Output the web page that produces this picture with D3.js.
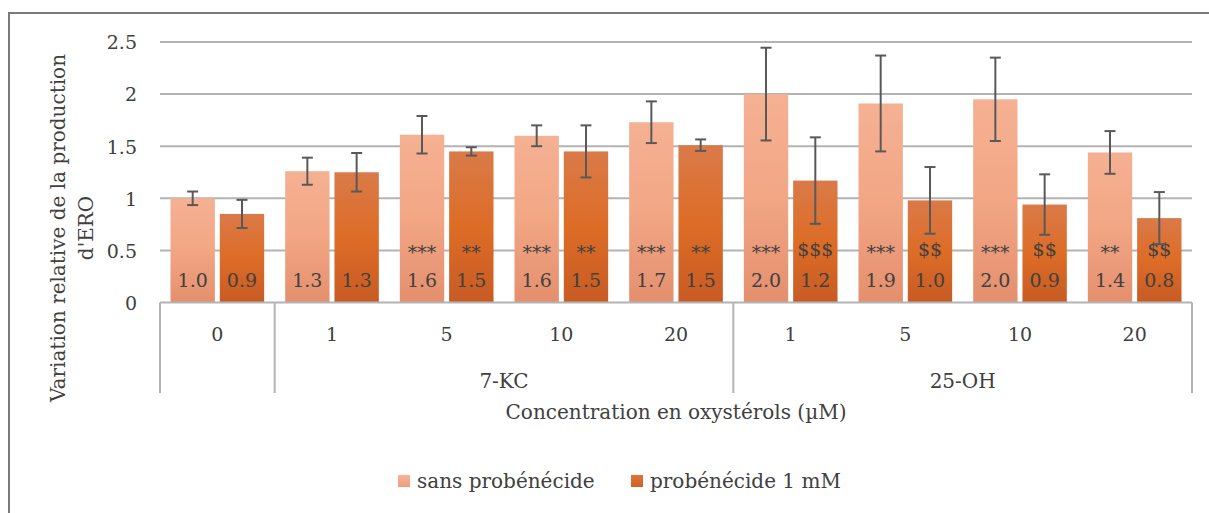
<!DOCTYPE html>
<html>
<head>
<meta charset="utf-8">
<script src="https://cdn.jsdelivr.net/npm/d3@7"></script>
<style>
  html, body { margin: 0; padding: 0; background: #fff; }
  svg { display: block; font-family: "DejaVu Serif", "Liberation Serif", serif; }
</style>
</head>
<body>
<svg id="chart" width="1209" height="513"></svg>
<script>
// ---- data ----
const concentrations = ["0", "1", "5", "10", "20", "1", "5", "10", "20"];
const groups = [
  { name: "", start: 0, end: 0 },
  { name: "7-KC", start: 1, end: 4 },
  { name: "25-OH", start: 5, end: 8 }
];
const seriesNames = ["sans probénécide", "probénécide 1 mM"];
const sansValues = [1.0, 1.26, 1.61, 1.60, 1.73, 2.0, 1.91, 1.95, 1.44];
const probValues = [0.85, 1.25, 1.45, 1.45, 1.51, 1.17, 0.98, 0.94, 0.81];
const sansErrors = [0.065, 0.13, 0.18, 0.10, 0.20, 0.445, 0.46, 0.40, 0.205];
const probErrors = [0.135, 0.185, 0.04, 0.25, 0.055, 0.415, 0.32, 0.29, 0.25];
const sansLabels = ["1.0", "1.3", "1.6", "1.6", "1.7", "2.0", "1.9", "2.0", "1.4"];
const probLabels = ["0.9", "1.3", "1.5", "1.5", "1.5", "1.2", "1.0", "0.9", "0.8"];
const sansSig = ["", "", "***", "***", "***", "***", "***", "***", "**"];
const probSig = ["", "", "**", "**", "**", "$$$", "$$", "$$", "$$"];
const yTicks = [0, 0.5, 1, 1.5, 2, 2.5];
const yTickLabels = ["0", "0.5", "1", "1.5", "2", "2.5"];
const yTitle = ["Variation relative de la production", "d'ERO"];
const xTitle = "Concentration en oxystérols (µM)";

const series = [
  { name: seriesNames[0], values: sansValues, errors: sansErrors, labels: sansLabels, sig: sansSig, grad: "gSans", legendGrad: "gSansL" },
  { name: seriesNames[1], values: probValues, errors: probErrors, labels: probLabels, sig: probSig, grad: "gProb", legendGrad: "gProbL" }
];

// ---- layout ----
const svg = d3.select("#chart");
const plotL = 160, plotR = 1192, plotT = 42, plotB = 302.5;
const textColor = "#404040";
const fontSize = 19;
const titleSize = 20;

const defs = svg.append("defs");
function grad(id, stops) {
  const g = defs.append("linearGradient").attr("id", id)
    .attr("x1", 0).attr("y1", 0).attr("x2", 0).attr("y2", 1);
  stops.forEach(s => g.append("stop").attr("offset", s[0]).attr("stop-color", s[1]));
}
grad("gSans", [[0, "#f5b193"], [0.5, "#f2a684"], [1, "#e48f6e"]]);
grad("gProb", [[0, "#da7a49"], [0.5, "#dd6c26"], [1, "#c75b24"]]);
grad("gSansL", [[0, "#f7b498"], [1, "#ee9d7c"]]);
grad("gProbL", [[0, "#e0743c"], [1, "#cf6125"]]);

// frame
svg.append("path")
  .attr("d", `M9,513 L9,13 L1209,13`)
  .attr("fill", "none").attr("stroke", "#7a7a7a").attr("stroke-width", 2);

const x0 = d3.scaleBand().domain(d3.range(concentrations.length)).range([plotL, plotR]).padding(0);
const bw = x0.bandwidth();
const x1 = d3.scaleBand().domain([0, 1]).range([10.5, bw - 10.5]).paddingInner(0.1);
const y = d3.scaleLinear().domain([0, 2.5]).range([plotB, plotT]);

// gridlines
svg.append("g").selectAll("line").data(yTicks.filter(t => t > 0)).join("line")
  .attr("x1", plotL).attr("x2", plotR)
  .attr("y1", d => y(d)).attr("y2", d => y(d))
  .attr("stroke", "#b3b3b3").attr("stroke-width", 2);

// y axis labels
const yAxis = d3.axisLeft(y).tickValues(yTicks).tickFormat((d, i) => yTickLabels[i]).tickSize(0).tickPadding(0);
const yg = svg.append("g").attr("transform", `translate(${plotL - 23},0)`).call(yAxis);
yg.select(".domain").remove();
yg.selectAll("text").attr("font-size", fontSize).attr("fill", textColor)
  .attr("font-family", "DejaVu Serif").attr("dy", "0.36em");

// bars
const barG = svg.append("g");
series.forEach((s, si) => {
  const g = barG.append("g");
  g.selectAll("rect").data(s.values).join("rect")
    .attr("x", (d, i) => x0(i) + x1(si))
    .attr("width", x1.bandwidth())
    .attr("y", d => y(d))
    .attr("height", d => y(0) - y(d))
    .attr("fill", `url(#${s.grad})`);
});

// baseline axis (x) and separators
svg.append("line").attr("x1", plotL).attr("x2", plotR).attr("y1", plotB).attr("y2", plotB)
  .attr("stroke", "#b3b3b3").attr("stroke-width", 2);
const sepX = [plotL, x0(1), x0(5), plotR];
svg.append("g").selectAll("line").data(sepX).join("line")
  .attr("x1", d => d).attr("x2", d => d).attr("y1", plotB).attr("y2", 393)
  .attr("stroke", "#b3b3b3").attr("stroke-width", 2);

// value and significance labels
series.forEach((s, si) => {
  const g = svg.append("g").attr("font-size", fontSize).attr("fill", textColor).attr("text-anchor", "middle");
  g.selectAll("text.v").data(s.labels).join("text").attr("class", "v")
    .attr("x", (d, i) => x0(i) + x1(si) + x1.bandwidth() / 2)
    .attr("y", 287)
    .text(d => d);
  g.selectAll("text.s").data(s.sig).join("text").attr("class", "s")
    .attr("x", (d, i) => x0(i) + x1(si) + x1.bandwidth() / 2)
    .attr("y", d => d.startsWith("*") ? 259 : 256)
    .text(d => d);
});

// error bars
series.forEach((s, si) => {
  const g = svg.append("g").attr("stroke", "#595959").attr("stroke-width", 2).attr("fill", "none");
  s.values.forEach((v, i) => {
    const cx = x0(i) + x1(si) + x1.bandwidth() / 2;
    const top = y(v + s.errors[i]), bot = y(v - s.errors[i]);
    g.append("line").attr("x1", cx).attr("x2", cx).attr("y1", top).attr("y2", bot);
    g.append("line").attr("x1", cx - 5.5).attr("x2", cx + 5.5).attr("y1", top).attr("y2", top);
    g.append("line").attr("x1", cx - 5.5).attr("x2", cx + 5.5).attr("y1", bot).attr("y2", bot);
  });
});

// category labels
svg.append("g").attr("font-size", fontSize).attr("fill", textColor).attr("text-anchor", "middle")
  .selectAll("text").data(concentrations).join("text")
  .attr("x", (d, i) => x0(i) + bw / 2).attr("y", 341).text(d => d);

// group labels
svg.append("g").attr("font-size", titleSize).attr("fill", textColor).attr("text-anchor", "middle")
  .selectAll("text").data(groups.filter(g => g.name)).join("text")
  .attr("x", g => (x0(g.start) + x0(g.end) + bw) / 2).attr("y", 388).text(g => g.name);

// x title
svg.append("text").attr("x", (plotL + plotR) / 2).attr("y", 419)
  .attr("text-anchor", "middle").attr("font-size", titleSize).attr("fill", textColor).text(xTitle);

// y title
const yt = svg.append("text").attr("transform", `rotate(-90)`)
  .attr("text-anchor", "middle").attr("font-size", titleSize).attr("fill", textColor);
yTitle.forEach((t, i) => {
  yt.append("tspan").attr("x", -228).attr("y", 65 + i * 28).text(t);
});

// legend
const legX = [398, 631];
const lg = svg.append("g");
series.forEach((s, si) => {
  lg.append("rect").attr("x", legX[si]).attr("y", 475).attr("width", 12).attr("height", 12)
    .attr("fill", `url(#${s.legendGrad})`);
  lg.append("text").attr("x", legX[si] + 19).attr("y", 488)
    .attr("font-size", titleSize).attr("fill", textColor).text(s.name);
});
</script>
</body>
</html>
